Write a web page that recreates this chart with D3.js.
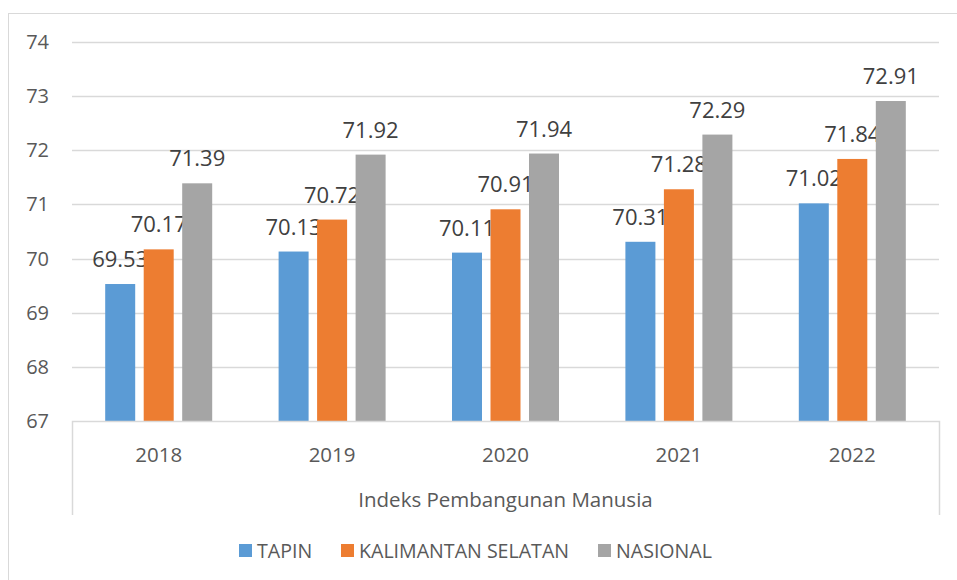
<!DOCTYPE html>
<html>
<head>
<meta charset="utf-8">
<script src="https://cdn.jsdelivr.net/npm/d3@7"></script>
<style>
  body { margin: 0; background: #fff; }
  svg { display: block; }
</style>
</head>
<body>
<svg id="chart" width="957" height="580"></svg>
<script>
const years = ["2018", "2019", "2020", "2021", "2022"];
const seriesNames = ["TAPIN", "KALIMANTAN SELATAN", "NASIONAL"];
const tapin = [69.53, 70.13, 70.11, 70.31, 71.02];
const kalsel = [70.17, 70.72, 70.91, 71.28, 71.84];
const nasional = [71.39, 71.92, 71.94, 72.29, 72.91];
const yTicks = [67, 68, 69, 70, 71, 72, 73, 74];
const colors = ["#5B9BD5", "#ED7D31", "#A5A5A5"];
const axisTitle = "Indeks Pembangunan Manusia";

const textColor = "#595959";
const gridColor = "#D9D9D9";
const font = "'Open Sans', sans-serif";

let svg = d3.select("#chart");
let plotLeft = 72, plotRight = 939, plotTop = 42, plotBottom = 421;

// outer chart border
svg.append("rect")
  .attr("x", 8.5).attr("y", 13.5)
  .attr("width", 960).attr("height", 580)
  .style("fill", "none")
  .style("stroke", gridColor);

let y = d3.scaleLinear().domain([67, 74]).range([plotBottom, plotTop]);
let x = d3.scaleBand().domain(years).range([plotLeft, plotRight]);
let barW = 30, gap = 8.5;
let xs = d3.scaleBand().domain(seriesNames)
  .range([0, barW * 3 + gap * 2]).paddingInner(gap / (barW + gap));

// gridlines
svg.selectAll(".grid")
  .data(yTicks.slice(1))
  .join("line")
  .attr("x1", plotLeft).attr("x2", plotRight)
  .attr("y1", d => Math.round(y(d)) + 0.5)
  .attr("y2", d => Math.round(y(d)) + 0.5)
  .style("stroke", gridColor)
  .style("stroke-width", 1.5);

// y tick labels
svg.selectAll(".ytick")
  .data(yTicks)
  .join("text")
  .attr("x", 49)
  .attr("y", d => y(d) + 7)
  .attr("text-anchor", "end")
  .style("font-family", font)
  .style("font-size", "20px")
  .style("fill", textColor)
  .text(d => d);

// bars and labels
let data = [tapin, kalsel, nasional];
let groupOffset = (x.bandwidth() - xs.range()[1]) / 2;
data.forEach(function(vals, si) {
  svg.selectAll(".bar" + si)
    .data(vals)
    .join("rect")
    .attr("x", (d, i) => x(years[i]) + groupOffset + xs(seriesNames[si]))
    .attr("y", d => y(d))
    .attr("width", xs.bandwidth())
    .attr("height", d => y(67) - y(d))
    .style("fill", colors[si]);

  svg.selectAll(".lbl" + si)
    .data(vals)
    .join("text")
    .attr("x", (d, i) => x(years[i]) + groupOffset + xs(seriesNames[si]) + xs.bandwidth() / 2)
    .attr("y", d => y(d) - 17)
    .attr("text-anchor", "middle")
    .style("font-family", font)
    .style("font-size", "22px")
    .style("fill", "#404040")
    .text(d => d.toFixed(2));
});

// category axis with outer frame lines
svg.append("path")
  .attr("d", `M${plotLeft + 0.5},515 V${plotBottom + 0.5} H${plotRight + 0.5} V515`)
  .style("fill", "none")
  .style("stroke", gridColor)
  .style("stroke-width", 1.5);

svg.selectAll(".xtick")
  .data(years)
  .join("text")
  .attr("x", d => x(d) + x.bandwidth() / 2)
  .attr("y", 462)
  .attr("text-anchor", "middle")
  .style("font-family", font)
  .style("font-size", "20.5px")
  .style("fill", textColor)
  .text(d => d);

svg.append("text")
  .attr("x", (plotLeft + plotRight) / 2)
  .attr("y", 507)
  .attr("text-anchor", "middle")
  .style("font-family", font)
  .style("font-size", "20.5px")
  .style("fill", textColor)
  .text(axisTitle);

// legend
let legendX = [239, 341, 598];
seriesNames.forEach(function(name, i) {
  svg.append("rect")
    .attr("x", legendX[i]).attr("y", 544)
    .attr("width", 13).attr("height", 13)
    .style("fill", colors[i]);
  svg.append("text")
    .attr("x", legendX[i] + 18)
    .attr("y", 558)
    .style("font-family", font)
    .style("font-size", "19.6px")
    .style("fill", textColor)
    .text(name);
});
</script>
</body>
</html>
